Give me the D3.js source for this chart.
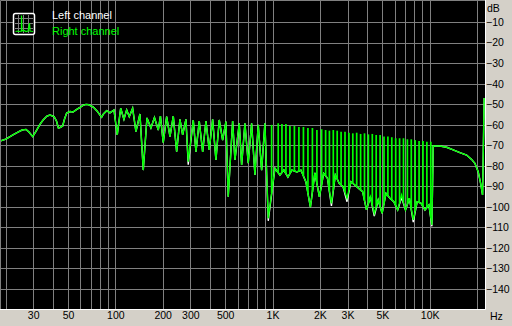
<!DOCTYPE html>
<html>
<head>
<meta charset="utf-8">
<script src="https://cdn.jsdelivr.net/npm/d3@7"></script>
<style>
  body { margin: 0; background: #d4d0c8; }
  svg { display: block; }
  text { font-family: "Liberation Sans", Arial, sans-serif; }
</style>
</head>
<body>
<div id="chart"></div>
<script>

// grid and tick values
const gridFreqs = [20,30,40,50,60,70,80,90,100,200,300,400,500,600,700,800,900,
  1000,2000,3000,4000,5000,6000,7000,8000,9000,10000,20000];
const labelFreqs = [30,50,100,200,300,500,1000,2000,3000,5000,10000];
const labelText = ['30','50','100','200','300','500','1K','2K','3K','5K','10K'];
const dbTicks = [-10,-20,-30,-40,-50,-60,-70,-80,-90,-100,-110,-120,-130,-140];

const seriesNames = ['Left channel', 'Right channel'];
const seriesColors = ['#ffffff', '#00ff00'];

// right channel, [Hz, dB]
const lowBand = [
  [18.5,-67.9],[20.1,-67.0],[22.3,-65.0],[24.0,-63.6],[25.5,-62.6],[27.0,-62.3],
  [28.2,-63.6],[29.8,-65.8],[31.3,-63.1],[33.2,-59.7],[34.7,-57.7],[36.7,-55.8],
  [38.4,-55.3],[40.7,-56.0],[42.2,-58.2],[43.4,-61.6],[44.4,-61.4],[46.2,-60.6],
  [47.5,-57.2],[49.0,-54.3],[51.4,-53.6],[53.8,-53.8],[56.2,-52.8],[59.6,-51.6],
  [62.2,-50.6],[65.0,-50.1],[67.9,-50.3],[72.4,-51.4],[76.4,-53.3],[79.9,-55.3],
  [81.8,-56.4],[84.0,-54.8],[88.1,-53.2],[92.4,-54.2]
];

const midBand = [
  [98.0,-52.8],[102.8,-65.0],[108.1,-52.0],[113.4,-57.4],[118.0,-52.8],[122.6,-56.1],
  [128.8,-52.0],[135.2,-63.4],[143.4,-54.8],[150.5,-82.1],[158.9,-56.7],[168.4,-61.6],
  [177.3,-56.5],[187.5,-62.6],[193.6,-55.8],[201.7,-68.8],[212.0,-56.1],[222.6,-65.8],
  [233.6,-55.8],[245.5,-73.2],[257.6,-57.4],[268.0,-65.0],[281.3,-57.4],[290.9,-78.0],
  [313.1,-57.7],[325.7,-73.2],[341.8,-58.2],[359.3,-73.2],[377.1,-58.2],[395.7,-72.3],
  [415.9,-57.4],[436.5,-77.2],[458.1,-57.7],[481.5,-67.5],[505.3,-58.5],[522.6,-95.1],
  [557.5,-58.2],[576.6,-77.2],[614.1,-59.3],[636.0,-79.6],[667.5,-59.3],[700.6,-78.8],
  [736.3,-59.3],[772.8,-84.5],[811.1,-60.1],[852.5,-82.1],[894.6,-59.3]
];

// narrow tone peaks above 1 kHz, and the floor between them
const combPeaks = [
  [986.9,-60.1],[1087,-59.3],[1148,-59.7],[1217,-59.7],[1290,-60.6],[1378,-60.6],
  [1472,-61.1],[1573,-61.1],[1680,-61.6],[1794,-61.6],[1916,-62.6],[2053,-62.2],
  [2177,-62.6],[2301,-62.9],[2436,-62.6],[2579,-62.9],[2731,-63.4],[2892,-63.4],
  [3062,-63.9],[3242,-64.2],[3432,-63.9],[3635,-64.5],[3848,-64.2],[4074,-64.7],
  [4314,-64.5],[4567,-65.0],[4836,-65.0],[5119,-65.8],[5421,-65.8],[5739,-66.1],
  [6077,-66.6],[6434,-66.6],[6812,-66.6],[7212,-67.1],[7636,-67.1],[8084,-67.5],
  [8560,-67.9],[9063,-67.9],[9596,-68.3],[10163,-68.3]
];

const combDips = [
  [939.1,-105.6],[1036,-81.2],[1115,-84.5],[1181,-82.1],[1253,-85.5],[1328,-82.1],
  [1430,-83.0],[1516,-82.1],[1631,-87.9],[1742,-100.1],[1861,-83.5],[1988,-95.2],
  [2114,-83.7],[2238,-86.1],[2370,-98.3],[2509,-84.5],[2656,-88.5],[2812,-90.2],
  [2978,-95.8],[3152,-87.8],[3338,-89.4],[3535,-91.0],[3743,-92.6],[3963,-101.5],
  [4195,-95.1],[4442,-103.2],[4703,-96.7],[4979,-103.2],[5272,-93.4],[5582,-95.8],
  [5910,-97.5],[6257,-101.5],[6625,-94.2],[7015,-101.5],[7427,-95.8],[7863,-106.4],
  [8325,-97.5],[8815,-98.3],[9333,-101.5],[9884,-99.1],[10328,-108.8]
];

const tailBand = [
  [10527,-70.4],[11612,-70.4],[12811,-71.0],[14111,-72.3],[15564,-73.6],[17171,-74.8],
  [18479,-76.9],[19396,-78.8],[20346,-82.9],[21074,-88.5],[21700,-94.2],[22220,-47.0]
];

// spots where the left channel dips below the right one
const leftDeeper = [
  [290.9,-79.5],[939.1,-106.8],[2370,-99.5],[2978,-97.5],[4442,-104.5],
  [6625,-95.5],[7863,-107.5],[10328,-109.5]
];

const rightChannel = lowBand.concat(midBand, combDips, tailBand);
const leftMap = new Map(leftDeeper);
const leftChannel = rightChannel.map(d => [d[0], leftMap.has(d[0]) ? leftMap.get(d[0]) : d[1]]);

const width = 512, height = 326;
const plotW = 485, plotH = 309;

const x = d3.scaleLog().domain([20, 20000]).range([5.5, 477]);
const y = d3.scaleLinear().domain([0, -150]).range([1.5, 309.5]);

// floor level under each peak, interpolated between the dips
const floorAt = d3.scaleLog()
  .domain(combDips.map(d => d[0]))
  .range(combDips.map(d => d[1]));

const svg = d3.select('#chart').append('svg')
  .attr('width', width)
  .attr('height', height);

svg.append('rect')
  .attr('width', width).attr('height', height)
  .attr('fill', '#d4d0c8');

svg.append('clipPath').attr('id', 'plot-clip')
  .append('rect').attr('x', 1).attr('y', 1).attr('width', plotW - 1).attr('height', plotH - 1);

svg.append('rect')
  .attr('x', 0).attr('y', 0)
  .attr('width', plotW).attr('height', plotH)
  .attr('fill', '#000');

// GRID
const grid = svg.append('g')
  .attr('stroke', '#808080')
  .attr('stroke-width', 1)
  .attr('shape-rendering', 'crispEdges');

grid.selectAll('.vline')
  .data(gridFreqs)
  .enter().append('line')
  .attr('class', 'vline')
  .attr('x1', d => Math.round(x(d)) + 0.5)
  .attr('x2', d => Math.round(x(d)) + 0.5)
  .attr('y1', 0).attr('y2', plotH);

grid.selectAll('.hline')
  .data(dbTicks)
  .enter().append('line')
  .attr('class', 'hline')
  .attr('y1', d => Math.round(y(d)) + 0.5)
  .attr('y2', d => Math.round(y(d)) + 0.5)
  .attr('x1', 0).attr('x2', plotW);

// sunken border
svg.append('path')
  .attr('d', `M0.5,${plotH} V0.5 H${plotW}`)
  .attr('fill', 'none').attr('stroke', '#808080');
svg.append('path')
  .attr('d', `M0,${plotH + 0.5} H${plotW + 0.5} V0`)
  .attr('fill', 'none').attr('stroke', '#ffffff');

// SPECTRUM
const line = d3.line()
  .x(d => x(d[0]))
  .y(d => y(d[1]));

const curves = svg.append('g').attr('clip-path', 'url(#plot-clip)');

curves.append('path')
  .datum(leftChannel)
  .attr('d', line)
  .attr('fill', 'none')
  .attr('stroke', seriesColors[0])
  .attr('stroke-width', 1.4);

curves.append('path')
  .datum(rightChannel)
  .attr('d', line)
  .attr('fill', 'none')
  .attr('stroke', seriesColors[1])
  .attr('stroke-width', 1.4);

curves.selectAll('.spike')
  .data(combPeaks)
  .enter().append('line')
  .attr('class', 'spike')
  .attr('x1', d => x(d[0]))
  .attr('x2', d => x(d[0]))
  .attr('y1', d => y(d[1]))
  .attr('y2', d => y(floorAt(d[0])))
  .attr('stroke', seriesColors[1])
  .attr('stroke-width', 1.7);

// AXES
const yAxis = svg.append('g')
  .attr('transform', `translate(${plotW},0)`)
  .call(d3.axisRight(y).tickValues(dbTicks).tickSize(0).tickPadding(1));
yAxis.select('.domain').remove();
yAxis.selectAll('text')
  .attr('fill', '#000')
  .style('font-size', '10.5px')
  .style('font-family', '"Liberation Sans", Arial, sans-serif');

const xAxis = svg.append('g')
  .attr('transform', `translate(0,${plotH})`)
  .call(d3.axisBottom(x).tickValues(labelFreqs).tickSize(0).tickPadding(3)
    .tickFormat((d, i) => labelText[i]));
xAxis.select('.domain').remove();
xAxis.selectAll('text')
  .attr('fill', '#000')
  .style('font-size', '10.5px')
  .style('font-family', '"Liberation Sans", Arial, sans-serif');

svg.append('text')
  .attr('x', 487).attr('y', 11.5)
  .style('font-size', '10.5px')
  .text('dB');

svg.append('text')
  .attr('x', 490).attr('y', 320)
  .style('font-size', '10.5px')
  .text('Hz');

// LEGEND
const legend = svg.append('g');

legend.append('rect')
  .attr('x', 13.5).attr('y', 13.5)
  .attr('width', 21).attr('height', 21)
  .attr('rx', 2)
  .attr('fill', '#000')
  .attr('stroke', '#fff')
  .attr('stroke-width', 1.5);

const icon = legend.append('g')
  .attr('stroke', '#808080')
  .attr('shape-rendering', 'crispEdges');
[18.5, 23.5, 28.5].forEach(p => {
  icon.append('line').attr('x1', p).attr('x2', p).attr('y1', 15).attr('y2', 33);
  icon.append('line').attr('y1', p).attr('y2', p).attr('x1', 15).attr('x2', 33);
});

legend.append('path')
  .attr('d', 'M15.5,31.5 L18,31 L19.5,31.5 L21.5,31 L21.5,15.5 L22,31 L24,30.5 L26,31.5 L28,31 L29.5,23 L30,31 L33,31.5')
  .attr('fill', 'none')
  .attr('stroke', '#00ff00')
  .attr('stroke-width', 1.2);

legend.selectAll('.leg-label')
  .data(seriesNames)
  .enter().append('text')
  .attr('class', 'leg-label')
  .attr('x', 52)
  .attr('y', (d, i) => 19 + i * 16)
  .attr('fill', (d, i) => seriesColors[i])
  .style('font-size', '11px')
  .text(d => d);

</script>
</body>
</html>
